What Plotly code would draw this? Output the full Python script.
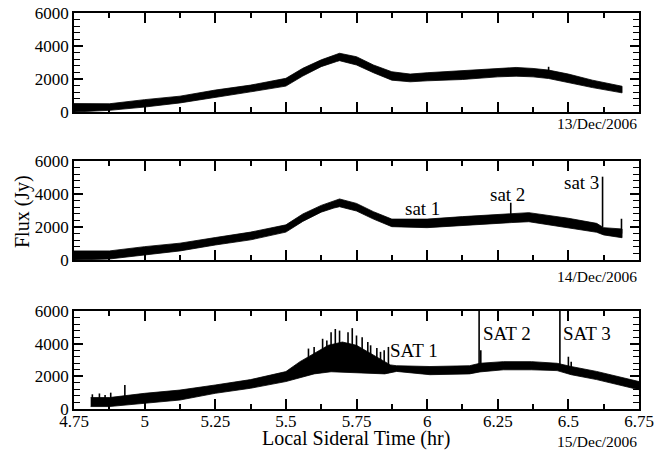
import plotly.graph_objects as go

# ---------------- data ----------------
# Panel 1 : 13/Dec/2006  -- noise envelope of the flux trace
p1_x     = [4.75, 4.875, 5.0, 5.125, 5.25, 5.375, 5.5, 5.56, 5.625, 5.68, 5.69, 5.75, 5.81, 5.875, 5.94, 6.0, 6.125, 6.25, 6.315, 6.375, 6.43, 6.5, 6.585, 6.69]
p1_upper = [510, 500, 750, 960, 1330, 1630, 2040, 2650, 3160, 3470, 3560, 3350, 2850, 2440, 2300, 2380, 2500, 2640, 2700, 2640, 2540, 2300, 1930, 1560]
p1_lower = [0, 100, 300, 550, 880, 1220, 1570, 2180, 2750, 3060, 3110, 2850, 2380, 1930, 1830, 1890, 1970, 2130, 2170, 2130, 2030, 1770, 1480, 1160]
p1_spike_x    = [6.43]
p1_spike_base = [2300]
p1_spike_top  = [2740]

# Panel 2 : 14/Dec/2006
p2_x     = [4.75, 4.875, 5.0, 5.125, 5.25, 5.375, 5.5, 5.56, 5.625, 5.67, 5.69, 5.75, 5.81, 5.875, 6.0, 6.125, 6.25, 6.3, 6.36, 6.5, 6.6, 6.625, 6.69]
p2_upper = [550, 550, 810, 1020, 1360, 1690, 2130, 2790, 3310, 3600, 3700, 3430, 2930, 2480, 2480, 2630, 2770, 2820, 2870, 2530, 2220, 1960, 1880]
p2_lower = [0, 60, 300, 550, 910, 1220, 1690, 2340, 2900, 3150, 3230, 2970, 2480, 2020, 1960, 2080, 2220, 2270, 2320, 1960, 1680, 1520, 1350]
p2_spike_x    = [6.296, 6.621, 6.688]
p2_spike_base = [2500, 2000, 1600]
p2_spike_top  = [3470, 5050, 2500]

# Panel 3 : 15/Dec/2006
p3_upper_x = [4.809, 4.875, 5.0, 5.125, 5.25, 5.375, 5.5, 5.55, 5.6, 5.65, 5.7, 5.75, 5.8, 5.85, 5.87, 5.892, 6.01, 6.15, 6.187, 6.27, 6.37, 6.46, 6.51, 6.6, 6.68, 6.75]
p3_upper   = [700, 700, 960, 1160, 1470, 1800, 2290, 2900, 3400, 3900, 4100, 3900, 3400, 2900, 2700, 2650, 2600, 2650, 2800, 2900, 2900, 2800, 2600, 2300, 1980, 1680]
p3_lower_x = [4.809, 4.875, 5.0, 5.125, 5.25, 5.375, 5.5, 5.55, 5.6, 5.66, 5.75, 5.85, 5.892, 6.01, 6.15, 6.187, 6.27, 6.37, 6.46, 6.51, 6.6, 6.68, 6.75]
p3_lower   = [150, 150, 350, 550, 960, 1270, 1680, 1900, 2150, 2280, 2200, 2150, 2300, 2100, 2150, 2270, 2400, 2400, 2350, 2100, 1800, 1470, 1180]
p3_spike_x    = [4.815, 4.84, 4.86, 4.88, 4.93, 5.58, 5.60, 5.63, 5.645, 5.66, 5.675, 5.69, 5.72, 5.735, 5.75, 5.77, 5.79, 5.80, 5.822, 5.835, 5.848, 5.863, 6.184, 6.19, 6.47, 6.50, 6.51]
p3_spike_base = [300, 300, 300, 300, 600, 2200, 2300, 2400, 2400, 2400, 2400, 2400, 2400, 2400, 2400, 2300, 2300, 2300, 2200, 2200, 2200, 2200, 2400, 2400, 2500, 2300, 2300]
p3_spike_top  = [900, 950, 850, 1000, 1470, 3700, 3800, 4300, 4200, 4700, 4900, 4800, 4700, 4950, 4500, 4400, 4100, 3900, 3730, 3500, 3600, 3800, 6000, 3600, 6000, 3200, 2900]

x_tickvals = [4.75, 5.0, 5.25, 5.5, 5.75, 6.0, 6.25, 6.5, 6.75]
x_ticktext = ["4.75", "5", "5.25", "5.5", "5.75", "6", "6.25", "6.5", "6.75"]
y_tickvals = [0, 2000, 4000, 6000]
y_ticktext = ["0", "2000", "4000", "6000"]
dates = ["13/Dec/2006", "14/Dec/2006", "15/Dec/2006"]

FONT = "Liberation Serif"
fig = go.Figure()


def add_panel(n, ux, uy, lx, ly, sx, sb, st):
    xa = "x" if n == 1 else f"x{n}"
    ya = "y" if n == 1 else f"y{n}"
    fig.add_trace(go.Scatter(
        x=list(ux) + list(lx)[::-1], y=list(uy) + list(ly)[::-1],
        fill="toself", fillcolor="black", mode="lines",
        line=dict(color="black", width=0.8),
        xaxis=xa, yaxis=ya, showlegend=False, hoverinfo="skip"))
    xs, ys = [], []
    for x, b, t in zip(sx, sb, st):
        xs += [x, x, None]
        ys += [b, t, None]
    fig.add_trace(go.Scatter(
        x=xs, y=ys, mode="lines", line=dict(color="black", width=1.6),
        xaxis=xa, yaxis=ya, showlegend=False, hoverinfo="skip"))


add_panel(1, p1_x, p1_upper, p1_x, p1_lower, p1_spike_x, p1_spike_base, p1_spike_top)
add_panel(2, p2_x, p2_upper, p2_x, p2_lower, p2_spike_x, p2_spike_base, p2_spike_top)
add_panel(3, p3_upper_x, p3_upper, p3_lower_x, p3_lower, p3_spike_x, p3_spike_base, p3_spike_top)

# page body has an 8px margin -> figure drawn 8px in from the window edge
OFF = 8
W, HT = 668 - OFF, 452 - OFF
L, R, T, B = 74 - OFF, 668 - 639, 13 - OFF, 452 - 409
H = HT - T - B


def dom(top_px, bot_px):
    return [(409 - bot_px) / H, (409 - top_px) / H]


domains = [dom(13, 112), dom(161, 260), dom(311, 409)]

axis_common = dict(showline=True, linecolor="black", linewidth=1.5, mirror="ticks",
                   ticks="inside", tickcolor="black", tickwidth=1.5,
                   showgrid=False, zeroline=False, automargin=False,
                   ticklabeloverflow="allow",
                   tickfont=dict(family=FONT, size=17, color="black"))

layout = dict(width=W, height=HT, margin=dict(l=L, r=R, t=T, b=B, autoexpand=False),
              paper_bgcolor="white", plot_bgcolor="white",
              font=dict(family=FONT, color="black"))
for i in range(1, 4):
    xk = "xaxis" if i == 1 else f"xaxis{i}"
    yk = "yaxis" if i == 1 else f"yaxis{i}"
    ya = "y" if i == 1 else f"y{i}"
    xa = "x" if i == 1 else f"x{i}"
    layout[xk] = dict(axis_common, range=[4.75, 6.75], anchor=ya,
                      tickvals=x_tickvals, ticktext=x_ticktext, ticklen=10,
                      showticklabels=(i == 3), ticklabelstandoff=-4,
                      minor=dict(dtick=0.125, tick0=4.75, ticklen=5, ticks="inside",
                                 tickcolor="black", tickwidth=1.5))
    layout[yk] = dict(axis_common, range=[0, 6000], anchor=xa, domain=domains[i - 1],
                      tickvals=y_tickvals, ticktext=y_ticktext, ticklen=9,
                      minor=dict(dtick=400, tick0=0, ticklen=6, ticks="inside",
                                 tickcolor="black", tickwidth=1.2))
fig.update_layout(**layout)

ann = []
date_y = [124, 276, 442]
for d, py in zip(dates, date_y):
    ann.append(dict(text=d, xref="paper", yref="paper", x=1.0, y=(409 - py) / H,
                    xanchor="right", yanchor="middle", showarrow=False,
                    font=dict(family=FONT, size=15.5, color="black")))
ann.append(dict(text="Flux (Jy)", xref="paper", yref="paper", x=(22 - 74) / 565,
                y=(409 - 212) / H, textangle=-90, showarrow=False,
                xanchor="center", yanchor="middle",
                font=dict(family=FONT, size=20, color="black")))
ann.append(dict(text="Local Sideral Time (hr)", xref="paper", yref="paper",
                x=(356 - 74) / 565, y=(409 - 438) / H, showarrow=False,
                xanchor="center", yanchor="middle",
                font=dict(family=FONT, size=20, color="black")))
for txt, x, y, xr, yr, sz in [("sat 1", 5.982, 3150, "x2", "y2", 19),
                              ("sat 2", 6.286, 4000, "x2", "y2", 19),
                              ("sat 3", 6.548, 4670, "x2", "y2", 19),
                              ("SAT 1", 5.954, 3610, "x3", "y3", 19),
                              ("SAT 2", 6.283, 4650, "x3", "y3", 19),
                              ("SAT 3", 6.566, 4650, "x3", "y3", 19)]:
    ann.append(dict(text=txt, x=x, y=y, xref=xr, yref=yr, showarrow=False,
                    xanchor="center", yanchor="middle",
                    font=dict(family=FONT, size=sz, color="black")))
fig.update_layout(annotations=ann)

fig.write_html("out.html")
